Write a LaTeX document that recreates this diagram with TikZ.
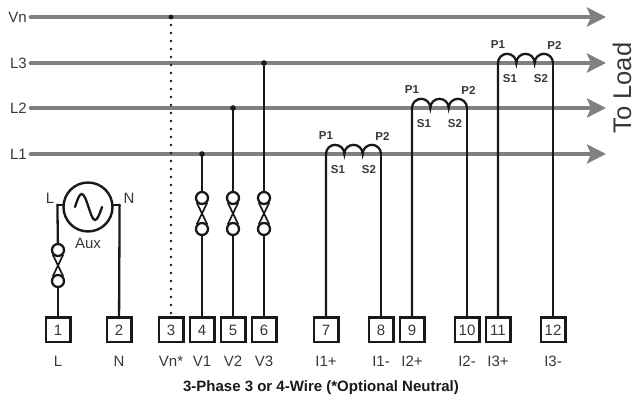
\documentclass[tikz,border=0pt]{standalone}
\usepackage{fontspec}
\setmainfont{Liberation Sans}
\usetikzlibrary{arrows.meta}
\definecolor{busgrey}{gray}{.5}
\definecolor{txtgrey}{gray}{.22}
\tikzset{
	bus/.style={draw=busgrey,line width=4.8pt,-{Stealth[length=19pt,width=19pt,inset=4pt]}},
	wire/.style={draw=black!90,line width=2.3pt},
	term/.style={draw=black!90,line width=2.5pt,fill=white,minimum size=24.5pt,inner sep=0pt,text=txtgrey,font=\fontsize{15}{15}\selectfont},
	lbl/.style={inner sep=0pt,text=txtgrey,font=\fontsize{15}{15}\selectfont},
	ctlbl/.style={inner sep=0pt,text=txtgrey,font=\fontsize{11.5}{11.5}\selectfont\bfseries},
	fusecirc/.style={circle,draw=black!90,line width=2.3pt,fill=white,minimum size=12pt,inner sep=0pt},
}
\begin{document}
\begin{tikzpicture}[x=1pt,y=1pt,cap=round]
	\useasboundingbox (0,0) rectangle (634,398);
	%all buses
	\foreach \n/\y in {Vn/381,L3/335,L2/290,L1/244}{
		\node[lbl,anchor=east] (lab\n) at (27,\y) {\n};
		\coordinate (end\n) at (606,\y);
		\draw[bus] (lab\n.east) ++(4,0) -- (end\n);
	}
	%all terminals
	\foreach \i/\x/\t in {1/58/L,2/119/N,3/171/Vn*,4/202/V1,5/233/V2,6/264/V3,7/326/I1+,8/381/I1-,9/412/I2+,10/467/I2-,11/498/I3+,12/553/I3-}{
		\node[term] (t\i) at (\x,68) {\i};
		\node[lbl] (n\i) at (\x,37) {\t};
	}
	%neutral
	\coordinate (tap3) at (171,381);
	\draw[draw=black!90,line width=2.6pt,dash pattern=on 0pt off 8pt] (tap3) -- (t3.north);
	\fill[black!90] (tap3) circle(2.4pt);
	%voltage inputs
	\foreach \i/\x/\y in {4/202/244,5/233/290,6/264/335}{
		\coordinate (tap\i) at (\x,\y);
		\node[fusecirc] (fa\i) at (\x,200) {};
		\node[fusecirc] (fb\i) at (\x,169) {};
		\draw[wire] (tap\i) -- (fa\i);
		\draw[wire] (fb\i) -- (t\i);
		\draw[wire,line width=1.7pt] (fa\i.-135) -- (fb\i.45);
		\draw[wire,line width=1.7pt] (fa\i.-45) -- (fb\i.135);
		\fill[black!90] (tap\i) circle(2.8pt);
	}
	%aux supply
	\node[circle,draw=black!90,line width=2.4pt,minimum size=49pt,inner sep=0pt] (aux) at (88,191) {};
	\draw[wire] (aux.175) -- ++(-5,0) coordinate (auxl);
	\draw[wire] (aux.5) -- ++(6,0) coordinate (auxr);
	\draw[line width=2.3pt,black!90] (75,191) sin (81.7,204) cos (88.5,191) sin (95,178) cos (102,191);
	\node[lbl] (auxlab) at (88,155) {Aux};
	\node[lbl] (auxL) at (50,200) {L};
	\node[lbl] (auxN) at (129,200) {N};
	\node[fusecirc] (fa1) at (58,148) {};
	\node[fusecirc] (fb1) at (58,117) {};
	\draw[wire] (auxl) -- (fa1);
	\draw[wire] (fb1) -- (t1);
	\draw[wire,line width=1.7pt] (fa1.-135) -- (fb1.45);
	\draw[wire,line width=1.7pt] (fa1.-45) -- (fb1.135);
	\draw[wire] (auxr) -- (t2);
	%current transformers
	\foreach \a/\b/\c/\y in {7/8/a/244,9/10/b/290,11/12/c/335}{
		\coordinate (pl\c) at (t\a.north |- 0,\y);
		\coordinate (pr\c) at (t\b.north |- 0,\y);
		\draw[wire] (t\a) -- (pl\c)
			arc[start angle=180,end angle=0,radius=9.167pt]
			arc[start angle=180,end angle=0,radius=9.167pt]
			arc[start angle=180,end angle=0,radius=9.167pt];
		\draw[wire] (pr\c) -- (t\b);
		\node[ctlbl] (pa\c) at ([yshift=18pt]pl\c) {P1};
		\node[ctlbl] (pb\c) at ([yshift=18pt,xshift=1.5pt]pr\c) {P2};
		\node[ctlbl] (sa\c) at ([xshift=12pt,yshift=-16pt]pl\c) {S1};
		\node[ctlbl] (sb\c) at ([xshift=-12pt,yshift=-16pt]pr\c) {S2};
	}
	\node[inner sep=0pt,rotate=90,text=txtgrey,font=\fontsize{25.5}{25.5}\selectfont] (load) at (622,310) {To Load};
	\node[inner sep=0pt,font=\fontsize{15}{15}\selectfont\bfseries,text=black!90] (title) at (321,10.5) {3-Phase 3 or 4-Wire (*Optional Neutral)};
\end{tikzpicture}
\end{document}
